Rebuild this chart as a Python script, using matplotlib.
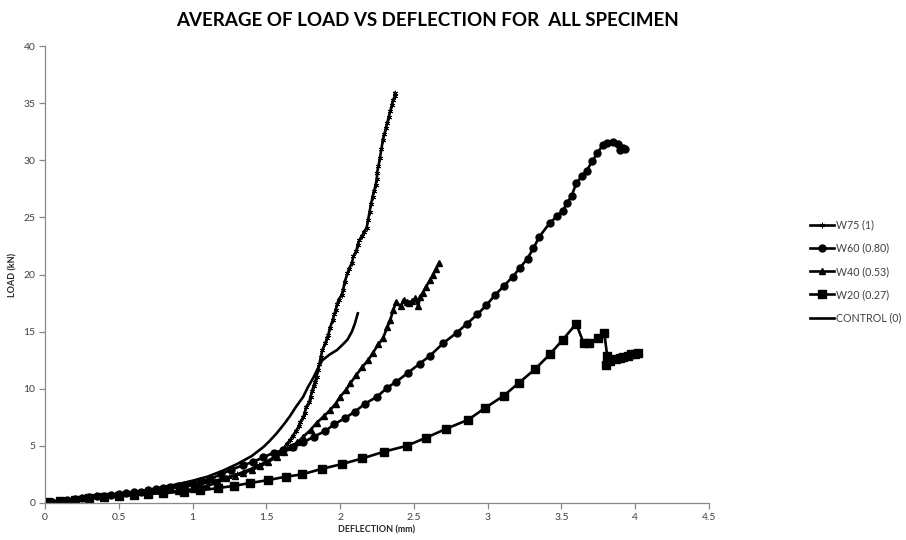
import matplotlib
matplotlib.use("Agg")
import matplotlib.pyplot as plt

plt.rcParams['font.family'] = ['Lato', 'DejaVu Sans']

# W75 (1)
w75_x = [0, 0.05, 0.1, 0.15, 0.2, 0.25, 0.3, 0.35, 0.4, 0.45, 0.5, 0.55, 0.6, 0.65, 0.7,
         0.75, 0.8, 0.85, 0.9, 0.95, 1.0, 1.05, 1.1, 1.15, 1.2, 1.25, 1.3, 1.35, 1.4, 1.45,
         1.5, 1.55, 1.6, 1.62, 1.64, 1.66, 1.68, 1.7, 1.72, 1.73, 1.75, 1.76, 1.77, 1.79,
         1.8, 1.81, 1.82, 1.83, 1.84, 1.85, 1.86, 1.87, 1.88, 1.9, 1.91, 1.92, 1.93, 1.95,
         1.96, 1.97, 1.98, 1.99, 2.01, 2.02, 2.03, 2.05, 2.06, 2.08, 2.09, 2.11, 2.12, 2.13,
         2.15, 2.16, 2.18, 2.19, 2.2, 2.21, 2.22, 2.23, 2.24, 2.25, 2.25, 2.26, 2.27, 2.28,
         2.29, 2.3, 2.31, 2.32, 2.33, 2.34, 2.35, 2.36, 2.37, 2.37]
w75_y = [0, 0.1, 0.2, 0.3, 0.35, 0.4, 0.5, 0.55, 0.6, 0.7, 0.75, 0.8, 0.9, 0.95, 1.0,
         1.1, 1.2, 1.3, 1.4, 1.5, 1.55, 1.65, 1.8, 1.95, 2.1, 2.3, 2.5, 2.75, 3.0, 3.3,
         3.6, 4.0, 4.5, 4.8, 5.2, 5.5, 5.9, 6.3, 6.7, 7.1, 7.5, 7.9, 8.4, 8.8,
         9.3, 9.8, 10.2, 10.6, 11.0, 11.6, 12.2, 12.8, 13.4, 14.0, 14.4, 14.7, 15.3, 16.0,
         16.5, 16.9, 17.4, 17.8, 18.2, 18.6, 19.3, 20.1, 20.5, 21.0, 21.6, 22.1, 22.6, 23.0,
         23.4, 23.7, 24.1, 24.8, 25.5, 26.2, 26.8, 27.3, 27.8, 28.4, 28.9, 29.5, 30.2, 31.0,
         31.8, 32.3, 32.8, 33.3, 33.8, 34.3, 34.8, 35.3, 35.6, 35.9]

# W60 (0.80)
w60_x = [0, 0.05, 0.1, 0.15, 0.2, 0.25, 0.3, 0.35, 0.4, 0.45, 0.5, 0.55, 0.6, 0.65, 0.7,
         0.75, 0.8, 0.85, 0.9, 0.95, 1.0, 1.06, 1.12, 1.19, 1.26, 1.34, 1.41, 1.48, 1.55,
         1.61, 1.68, 1.75, 1.82, 1.9, 1.96, 2.03, 2.1, 2.17, 2.25, 2.32, 2.38, 2.46, 2.54,
         2.61, 2.7, 2.79, 2.86, 2.93, 2.99, 3.05, 3.11, 3.17, 3.22, 3.27, 3.31, 3.35, 3.42,
         3.47, 3.51, 3.54, 3.57, 3.6, 3.64, 3.67, 3.71, 3.74, 3.78, 3.81, 3.85, 3.88, 3.9,
         3.92, 3.93]
w60_y = [0, 0.1, 0.2, 0.3, 0.35, 0.45, 0.5, 0.6, 0.65, 0.7, 0.8, 0.85, 0.95, 1.0, 1.1,
         1.2, 1.3, 1.4, 1.5, 1.6, 1.7, 1.9, 2.1, 2.5, 2.9, 3.3, 3.6, 4.0, 4.4,
         4.6, 4.9, 5.3, 5.8, 6.3, 6.9, 7.4, 8.0, 8.7, 9.3, 10.1, 10.6, 11.4, 12.2,
         12.9, 14.0, 14.9, 15.7, 16.5, 17.3, 18.2, 19.0, 19.8, 20.6, 21.4, 22.3, 23.3, 24.5,
         25.1, 25.6, 26.3, 26.9, 28.0, 28.6, 29.1, 29.9, 30.6, 31.3, 31.5, 31.6, 31.4, 30.9,
         31.1, 31.0]

# W40 (0.53)
w40_x = [0, 0.1, 0.2, 0.3, 0.4, 0.5, 0.6, 0.7, 0.8, 0.9, 1.0, 1.1, 1.17, 1.23, 1.29,
         1.34, 1.4, 1.46, 1.51, 1.57, 1.62, 1.66, 1.71, 1.75, 1.8, 1.84, 1.89, 1.93, 1.97,
         2.0, 2.04, 2.07, 2.11, 2.15, 2.19, 2.22, 2.26, 2.29, 2.32, 2.34, 2.36, 2.38, 2.41,
         2.43, 2.45, 2.47, 2.49, 2.51, 2.53, 2.54, 2.56, 2.58, 2.61, 2.63, 2.65, 2.67]
w40_y = [0, 0.15, 0.3, 0.4, 0.5, 0.6, 0.7, 0.8, 0.95, 1.05, 1.2, 1.5, 1.8, 2.2, 2.4,
         2.6, 2.9, 3.2, 3.6, 4.0, 4.5, 4.9, 5.3, 5.8, 6.4, 7.0, 7.6, 8.1, 8.7,
         9.3, 9.9, 10.5, 11.2, 11.9, 12.5, 13.1, 13.9, 14.4, 15.4, 16.0, 16.9, 17.6, 17.2,
         17.8, 17.6, 17.5, 17.7, 17.9, 17.2, 18.0, 18.4, 18.9, 19.5, 20.0, 20.5, 21.0]

# W20 (0.27)
w20_x = [0, 0.02, 0.1, 0.2, 0.3, 0.4, 0.5, 0.6, 0.7, 0.8, 0.94, 1.05, 1.17, 1.28, 1.39,
         1.51, 1.63, 1.74, 1.88, 2.01, 2.15, 2.3, 2.45, 2.58, 2.72, 2.87, 2.98, 3.11, 3.21,
         3.32, 3.42, 3.51, 3.6, 3.65, 3.69, 3.75, 3.79, 3.81, 3.8, 3.83, 3.87, 3.9, 3.92,
         3.95, 3.97, 4.0, 4.02]
w20_y = [0, 0.05, 0.2, 0.3, 0.4, 0.5, 0.6, 0.7, 0.8, 0.85, 1.0, 1.1, 1.3, 1.5, 1.75,
         2.0, 2.3, 2.5, 3.0, 3.4, 3.9, 4.5, 5.0, 5.7, 6.5, 7.3, 8.3, 9.4, 10.5,
         11.7, 13.0, 14.3, 15.7, 14.0, 14.0, 14.4, 14.9, 12.9, 12.1, 12.4, 12.6, 12.7, 12.8,
         12.9, 13.0, 13.0, 13.1]

# CONTROL (0)
ctrl_x = [0, 0.1, 0.2, 0.3, 0.4, 0.5, 0.6, 0.7, 0.8, 0.9, 1.0, 1.1, 1.2, 1.3, 1.4,
          1.48, 1.52, 1.57, 1.62, 1.66, 1.7, 1.75, 1.78, 1.82, 1.85, 1.88, 1.93, 1.98,
          2.02, 2.05, 2.08, 2.1, 2.12]
ctrl_y = [0, 0.2, 0.35, 0.5, 0.65, 0.8, 0.95, 1.15, 1.4, 1.65, 1.95, 2.3, 2.8, 3.4, 4.1,
          4.9, 5.4, 6.1, 6.9, 7.6, 8.4, 9.3, 10.1, 11.0, 11.8, 12.5, 13.0, 13.4,
          13.9, 14.3, 15.0, 15.7, 16.6]

fig = plt.figure(figsize=(9.06, 5.40), dpi=100)
ax = fig.add_axes([45 / 906, 1 - 503 / 540, 664 / 906, 457 / 540])

lw = 1.9
ax.plot(w75_x, w75_y, color='black', lw=lw, marker=(6, 2, 0), ms=4, mew=0.6,
        label='W75 (1)')
ax.plot(w60_x, w60_y, color='black', lw=lw, marker='o', ms=5, label='W60 (0.80)')
ax.plot(w40_x, w40_y, color='black', lw=lw, marker='^', ms=4.5, label='W40 (0.53)')
ax.plot(w20_x, w20_y, color='black', lw=lw, marker='s', ms=5.5, label='W20 (0.27)')
ax.plot(ctrl_x, ctrl_y, color='black', lw=lw, label='CONTROL (0)')

ax.set_xlim(0, 4.5)
ax.set_ylim(0, 40)
ax.set_xticks([0, 0.5, 1, 1.5, 2, 2.5, 3, 3.5, 4, 4.5])
ax.set_xticklabels(['0', '0.5', '1', '1.5', '2', '2.5', '3', '3.5', '4', '4.5'])
ax.set_yticks(range(0, 41, 5))

for side in ['top', 'right']:
    ax.spines[side].set_visible(False)
for side in ['left', 'bottom']:
    ax.spines[side].set_color('#888888')
    ax.spines[side].set_linewidth(0.9)
ax.tick_params(axis='both', colors='#888888', labelcolor='#404040', labelsize=7.5,
               length=4, width=0.9, pad=3)

ax.set_xlabel('DEFLECTION (mm)', fontsize=6.5, fontweight='bold', color='#262626', labelpad=3)
ax.set_ylabel('LOAD (kN)', fontsize=6.5, fontweight='bold', color='#262626', labelpad=4)

fig.text(427 / 906, 1 - 20 / 540, 'AVERAGE OF LOAD VS DEFLECTION FOR  ALL SPECIMEN',
         ha='center', va='center', fontsize=13.5, fontweight='bold', color='black')

fig.legend(loc='upper left', bbox_to_anchor=(806 / 906, 1 - 215 / 540), frameon=False,
           fontsize=7.7, handlelength=2.2, handletextpad=0.2, labelspacing=1.15,
           borderaxespad=0, labelcolor='#404040')

fig.savefig('out.png', dpi=100)
